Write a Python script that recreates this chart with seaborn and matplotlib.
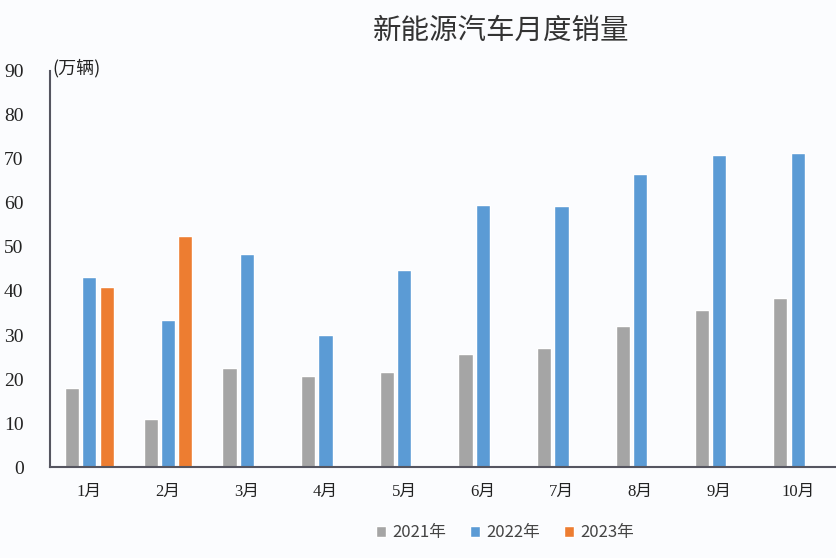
import matplotlib
matplotlib.use("Agg")
import matplotlib.pyplot as plt
import seaborn as sns
import pandas as pd
import numpy as np

months = ["1月", "2月", "3月", "4月", "5月", "6月", "7月", "8月", "9月", "10月"]
sales_2021 = [17.9, 11.0, 22.6, 20.6, 21.7, 25.6, 27.1, 32.1, 35.7, 38.3]
sales_2022 = [43.1, 33.4, 48.4, 29.9, 44.7, 59.6, 59.3, 66.6, 70.8, 71.4]
sales_2023 = [40.8, 52.5, None, None, None, None, None, None, None, None]
years = ["2021年", "2022年", "2023年"]
colors = ["#a5a5a5", "#5b9bd5", "#ed7d31"]

rows = []
for yr, vals in zip(years, [sales_2021, sales_2022, sales_2023]):
    for m, v in zip(months, vals):
        rows.append({"month": m, "year": yr, "value": np.nan if v is None else v})
df = pd.DataFrame(rows)

sns.set_theme(style="white")
plt.rcParams['font.family'] = ['Noto Sans CJK SC', 'DejaVu Sans']

fig = plt.figure(figsize=(8.37, 5.58), dpi=100, facecolor="#fbfcfe")
ax = fig.add_axes([50/837, (558-467)/558, 1 - 50/837, (467-71)/558])
ax.set_facecolor("#fbfcfe")

sns.barplot(data=df, x="month", y="value", hue="year", hue_order=years,
            palette=colors, order=months, width=0.66, gap=0.18,
            saturation=1, ax=ax, legend=True, err_kws={"linewidth": 0})

ax.set_ylim(0, 90)
ax.set_xlim(-0.5, 9.5)
ax.set_yticks(range(0, 91, 10))
ax.set_yticklabels([str(v) for v in range(0, 91, 10)],
                   fontfamily="Liberation Serif", fontsize=14, color="#222222")
ax.tick_params(axis="y", length=0, pad=19)
ax.tick_params(axis="x", length=0, pad=12)
for lab in ax.get_xticklabels():
    lab.set_fontsize(12)
    lab.set_color("#222222")
    lab.set_family(['Liberation Serif', 'Noto Sans CJK SC'])
ax.set_xlabel("")
ax.set_ylabel("")
for s in ["top", "right"]:
    ax.spines[s].set_visible(False)
ax.spines["left"].set_color("#555560")
ax.spines["bottom"].set_color("#555560")
ax.spines["left"].set_linewidth(1.5)
ax.spines["bottom"].set_linewidth(1.5)

fig.text(501/837, 1 - 31/558, "新能源汽车月度销量", ha="center", va="center",
         fontsize=20.5, color="#333333")
fig.text(52/837, 1 - 68/558, "(万辆)", ha="left", va="center",
         fontsize=13, color="#222222")

handles, labels = ax.get_legend_handles_labels()
ax.legend(handles, labels, loc="center", bbox_to_anchor=(505/837, 1 - 533/558),
          bbox_transform=fig.transFigure, ncol=3, frameon=False,
          fontsize=12, handlelength=0.6, handleheight=0.6, handletextpad=0.4,
          columnspacing=1.4, labelcolor="#444444")

fig.savefig("out.png", dpi=100, facecolor=fig.get_facecolor())
